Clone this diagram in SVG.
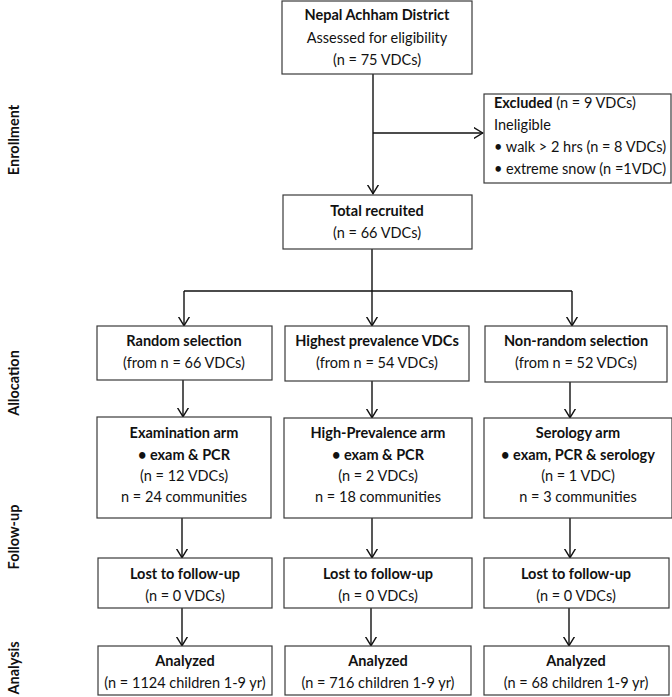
<svg xmlns="http://www.w3.org/2000/svg" width="672" height="697" viewBox="0 0 672 697">
<style>
text{font-family:Lato,"Liberation Sans",sans-serif;font-size:14.5px;fill:#111;}
.b{font-weight:bold;}
.c{text-anchor:middle;}
.box{fill:#fff;stroke:#3a3a3a;stroke-width:1.2;}
.ln{fill:none;stroke:#111;stroke-width:1.4;}
.lab{font-weight:bold;text-anchor:middle;}
</style>
<defs>
<marker id="arr" viewBox="0 0 10 12" refX="9.3" refY="6" markerWidth="10" markerHeight="12" markerUnits="userSpaceOnUse" orient="auto">
<path d="M0,0.5 L9,6 L0,11.5" fill="none" stroke="#111" stroke-width="1.4"/>
</marker>
</defs>
<rect width="672" height="697" fill="#fff"/>

<g id="phase-labels">
<text class="lab" transform="translate(19,140) rotate(-90)">Enrollment</text>
<text class="lab" transform="translate(19,383) rotate(-90)">Allocation</text>
<text class="lab" transform="translate(19,537) rotate(-90)">Follow-up</text>
<text class="lab" transform="translate(19,668) rotate(-90)">Analysis</text>
</g>

<g id="connectors">
<path class="ln" d="M373,74 V194" marker-end="url(#arr)"/>
<path class="ln" d="M373,133 H483" marker-end="url(#arr)"/>
<path class="ln" d="M372,249 V291 M184,291 H572"/>
<path class="ln" d="M184,291 V326" marker-end="url(#arr)"/>
<path class="ln" d="M372,291 V326" marker-end="url(#arr)"/>
<path class="ln" d="M572,291 V326" marker-end="url(#arr)"/>
<path class="ln" d="M183,380 V417" marker-end="url(#arr)"/>
<path class="ln" d="M372,381 V418" marker-end="url(#arr)"/>
<path class="ln" d="M570,382 V418" marker-end="url(#arr)"/>
<path class="ln" d="M182,518 V558" marker-end="url(#arr)"/>
<path class="ln" d="M372,518 V558" marker-end="url(#arr)"/>
<path class="ln" d="M570,518 V558" marker-end="url(#arr)"/>
<path class="ln" d="M182,608 V646" marker-end="url(#arr)"/>
<path class="ln" d="M371,608 V646" marker-end="url(#arr)"/>
<path class="ln" d="M569,608 V646" marker-end="url(#arr)"/>
</g>

<g id="assessed">
<rect class="box" x="282" y="1" width="190" height="73"/>
<text class="b c" x="377" y="20">Nepal Achham District</text>
<text class="c" x="377" y="43">Assessed for eligibility</text>
<text class="c" x="377" y="65">(n = 75 VDCs)</text>
</g>

<g id="excluded">
<rect class="box" x="484" y="94" width="187" height="89"/>
<text x="494" y="108"><tspan class="b">Excluded</tspan> (n = 9 VDCs)</text>
<text x="494" y="130">Ineligible</text>
<text x="494" y="152">• walk &gt; 2 hrs (n = 8 VDCs)</text>
<text x="494" y="174">• extreme snow (n =1VDC)</text>
</g>

<g id="recruited">
<rect class="box" x="283" y="195" width="189" height="54"/>
<text class="b c" x="377" y="216">Total recruited</text>
<text class="c" x="377" y="238">(n = 66 VDCs)</text>
</g>

<g id="random-selection">
<rect class="box" x="97" y="326" width="175" height="54"/>
<text class="b c" x="184" y="346">Random selection</text>
<text class="c" x="184" y="368">(from n = 66 VDCs)</text>
</g>
<g id="highest-prevalence">
<rect class="box" x="285" y="326" width="184" height="55"/>
<text class="b c" x="377" y="346">Highest prevalence VDCs</text>
<text class="c" x="377" y="368">(from n = 54 VDCs)</text>
</g>
<g id="non-random">
<rect class="box" x="485" y="326" width="182" height="56"/>
<text class="b c" x="576" y="346">Non-random selection</text>
<text class="c" x="576" y="368">(from n = 52 VDCs)</text>
</g>

<g id="exam-arm">
<rect class="box" x="97" y="417" width="174" height="101"/>
<text class="b c" x="184" y="438">Examination arm</text>
<text class="b c" x="184" y="460">• exam &amp; PCR</text>
<text class="c" x="184" y="481">(n = 12 VDCs)</text>
<text class="c" x="184" y="502">n = 24 communities</text>
</g>
<g id="hp-arm">
<rect class="box" x="284" y="418" width="188" height="100"/>
<text class="b c" x="378" y="438">High-Prevalence arm</text>
<text class="b c" x="378" y="460">• exam &amp; PCR</text>
<text class="c" x="378" y="481">(n = 2 VDCs)</text>
<text class="c" x="378" y="502">n = 18 communities</text>
</g>
<g id="serology-arm">
<rect class="box" x="484" y="418" width="188" height="100"/>
<text class="b c" x="578" y="438">Serology arm</text>
<text class="b c" x="578" y="460">• exam, PCR &amp; serology</text>
<text class="c" x="578" y="481">(n = 1 VDC)</text>
<text class="c" x="578" y="502">n = 3 communities</text>
</g>

<g id="lost-1">
<rect class="box" x="98" y="558" width="174" height="50"/>
<text class="b c" x="185" y="579">Lost to follow-up</text>
<text class="c" x="185" y="601">(n = 0 VDCs)</text>
</g>
<g id="lost-2">
<rect class="box" x="284" y="558" width="188" height="50"/>
<text class="b c" x="378" y="579">Lost to follow-up</text>
<text class="c" x="378" y="601">(n = 0 VDCs)</text>
</g>
<g id="lost-3">
<rect class="box" x="484" y="558" width="185" height="50"/>
<text class="b c" x="576" y="579">Lost to follow-up</text>
<text class="c" x="576" y="601">(n = 0 VDCs)</text>
</g>

<g id="analyzed-1">
<rect class="box" x="98" y="646" width="174" height="49"/>
<text class="b c" x="185" y="666">Analyzed</text>
<text class="c" x="185" y="688">(n = 1124 children 1-9 yr)</text>
</g>
<g id="analyzed-2">
<rect class="box" x="285" y="646" width="186" height="49"/>
<text class="b c" x="378" y="666">Analyzed</text>
<text class="c" x="378" y="688">(n = 716 children 1-9 yr)</text>
</g>
<g id="analyzed-3">
<rect class="box" x="484" y="646" width="185" height="49"/>
<text class="b c" x="576" y="666">Analyzed</text>
<text class="c" x="576" y="688">(n = 68 children 1-9 yr)</text>
</g>
</svg>
